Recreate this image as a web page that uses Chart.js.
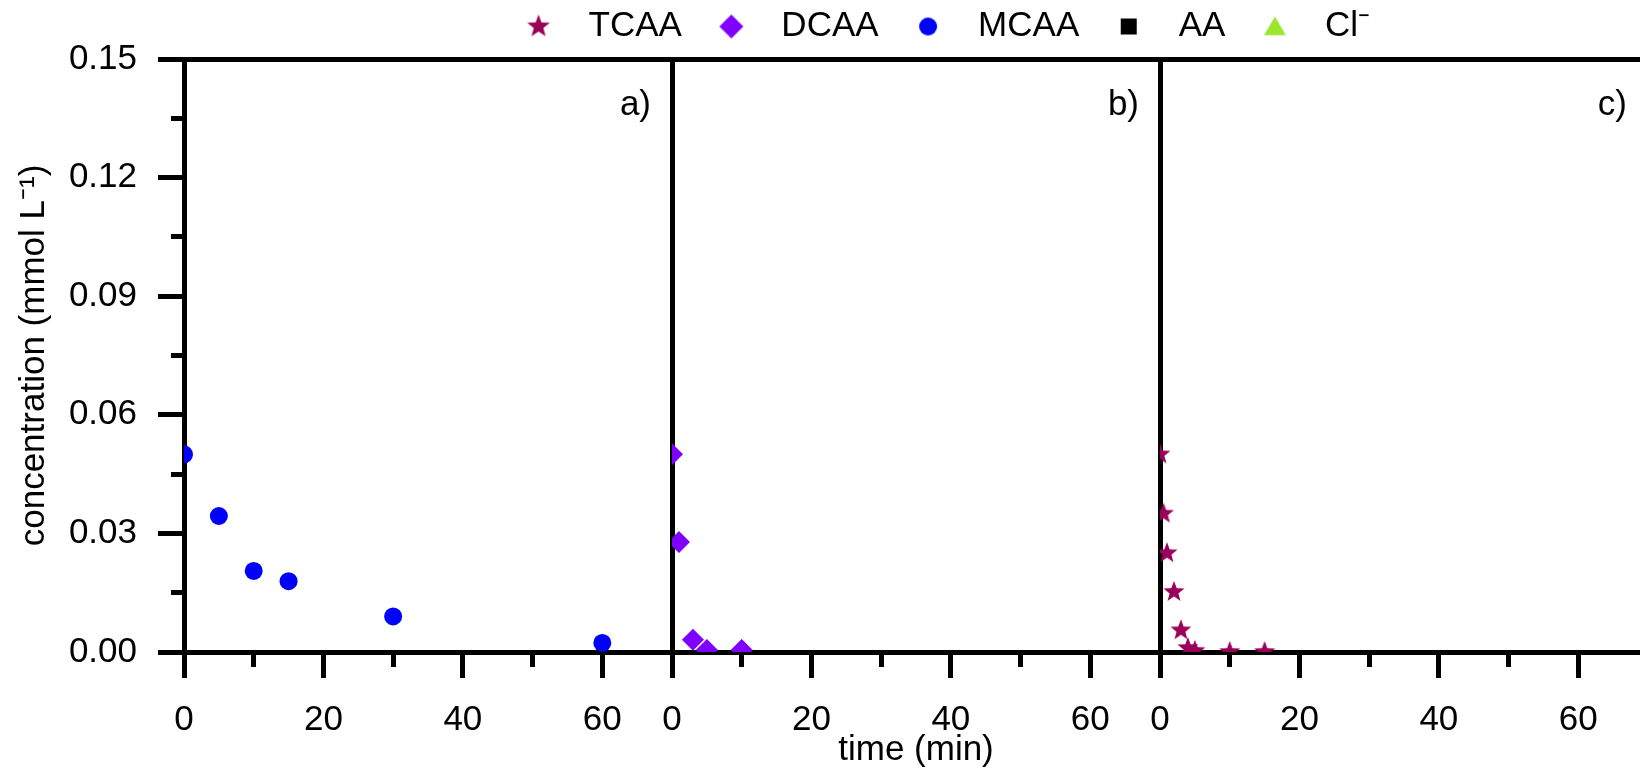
<!DOCTYPE html>
<html>
<head>
<meta charset="utf-8">
<title>Haloacetic acid degradation</title>
<script src="https://cdn.jsdelivr.net/npm/chart.js@4.4.1/dist/chart.umd.min.js"></script>
<style>
  html, body { margin: 0; padding: 0; background: #fff; }
  body { width: 1640px; height: 768px; overflow: hidden; position: relative; }
  canvas { position: absolute; top: 0; }
</style>
</head>
<body>
<canvas id="panelA" width="672" height="768" style="left:0px"></canvas>
<canvas id="panelB" width="588" height="768" style="left:572px"></canvas>
<canvas id="panelC" width="1390" height="768" style="left:258px"></canvas>
<script>
// legend entries
const seriesNames = ['TCAA', 'DCAA', 'MCAA', 'AA', 'Cl⁻'];
const seriesColors = ['#9a0059', '#8000ff', '#0000ff', '#000000', '#9ee530'];
const seriesShapes = ['star', 'diamond', 'circle', 'square', 'triangle'];

// a) MCAA
const mcaaTime = [0, 5, 10, 15, 30, 60];
const mcaaConc = [0.050, 0.0344, 0.0205, 0.0179, 0.0090, 0.0023];
// b) DCAA
const dcaaTime = [0, 1, 3, 5, 10];
const dcaaConc = [0.050, 0.0278, 0.0031, 0.0005, 0.0005];
// c) TCAA
const tcaaTime = [0, 0.5, 1, 2, 3, 4, 5, 10, 15];
const tcaaConc = [0.050, 0.035, 0.025, 0.0152, 0.0055, 0.001, 0.0003, 0, 0];

const xTickValues = [0, 10, 20, 30, 40, 50, 60, 70];
const xTickLabels = ['0', '', '20', '', '40', '', '60', ''];
const yTickValues = [0, 0.015, 0.03, 0.045, 0.06, 0.075, 0.09, 0.105, 0.12, 0.135, 0.15];
const yTickLabels = ['0.00', '', '0.03', '', '0.06', '', '0.09', '', '0.12', '', '0.15'];
const panelLetters = ['a)', 'b)', 'c)'];

Chart.defaults.font.family = "'Liberation Sans', Arial, sans-serif";
Chart.defaults.color = '#000';

function drawShape(g, shape, cx, cy, s) {
    g.beginPath();
    if (shape === 'star') {
        for (let i = 0; i < 10; i++) {
            const a = -Math.PI / 2 + i * Math.PI / 5;
            const r = i % 2 ? s * 0.42 : s;
            g.lineTo(cx + r * Math.cos(a), cy + r * Math.sin(a));
        }
    } else if (shape === 'diamond') {
        g.moveTo(cx, cy - s); g.lineTo(cx + s, cy); g.lineTo(cx, cy + s); g.lineTo(cx - s, cy);
    } else if (shape === 'circle') {
        g.arc(cx, cy, s, 0, Math.PI * 2);
    } else if (shape === 'square') {
        g.rect(cx - s, cy - s, 2 * s, 2 * s);
    } else if (shape === 'triangle') {
        g.moveTo(cx, cy - s * 0.9); g.lineTo(cx + s, cy + s * 0.8); g.lineTo(cx - s, cy + s * 0.8);
    }
    g.closePath();
    g.fill();
}

function makeSymbol(shape, color, size, w, h, cx) {
    const c = document.createElement('canvas');
    c.width = w;
    c.height = h;
    const g = c.getContext('2d');
    g.fillStyle = color;
    drawShape(g, shape, cx, h / 2, size);
    return c;
}

const legendSizes = [12, 12, 9, 8, 11];
// symbol sits left of the image centre so the gap to the text matches
const legendSymbols = seriesShapes.map((s, i) => makeSymbol(s, seriesColors[i], legendSizes[i], 58, 30, 14));
const starPoint = makeSymbol('star', seriesColors[0], 11, 24, 24, 12);

function points(t, c) {
    return t.map((x, i) => ({ x: x, y: c[i] }));
}

function dataset(k, t, c, style, radius) {
    return {
        label: seriesNames[k],
        data: points(t, c),
        pointStyle: style,
        pointRadius: radius,
        pointBorderWidth: 0,
        backgroundColor: seriesColors[k],
        borderColor: seriesColors[k],
        showLine: false,
        clip: 0
    };
}

// the panels butt against each other, so no label padding at the ends
function noEdgePadding(s) {
    s.paddingLeft = 0;
    s.paddingRight = 0;
    s.paddingTop = 0;
    s.paddingBottom = 0;
}

function xAxis(showTitle) {
    return {
        type: 'linear', position: 'bottom', min: 0, max: 70, z: 1,
        afterBuildTicks: s => { s.ticks = xTickValues.map(v => ({ value: v })); },
        afterFit: s => { s.height = 116; noEdgePadding(s); },
        ticks: { autoSkip: false, maxRotation: 0, padding: 21, color: '#000', font: { size: 35 },
                 callback: (v, i) => xTickLabels[i] },
        grid: { drawOnChartArea: false, drawTicks: true, tickLength: 26, tickWidth: 5,
                tickColor: '#000', color: '#000',
                tickBorderDash: c => (c.tick && xTickLabels[c.index] === '') ? [12, 60] : [] },
        border: { display: true, width: 5, color: '#000' },
        title: { display: showTitle, text: 'time (min)', color: '#000',
                 font: { size: 35, lineHeight: 1 }, padding: { top: 0, bottom: 0 } }
    };
}

function topAxis(height) {
    return {
        type: 'linear', position: 'top', min: 0, max: 70, z: 1,
        ticks: { display: false },
        grid: { display: false, drawTicks: false },
        border: { display: true, width: 5, color: '#000' },
        afterFit: s => { s.height = height(s); noEdgePadding(s); }
    };
}

function plainY(width) {
    return {
        type: 'linear', position: 'left', min: 0, max: 0.15, z: 1,
        ticks: { display: false },
        grid: { display: false, drawTicks: false },
        border: { display: true, width: 5, color: '#000' },
        afterFit: s => { s.width = width; noEdgePadding(s); }
    };
}

const panelLetterPlugin = {
    id: 'panelLetter',
    afterDraw(chart, args, opts) {
        const { ctx, chartArea } = chart;
        ctx.save();
        ctx.font = "35px 'Liberation Sans', Arial, sans-serif";
        ctx.fillStyle = '#000';
        ctx.textAlign = 'right';
        ctx.textBaseline = 'middle';
        ctx.fillText(opts.text, chartArea.right - 21, chartArea.top + 46);
        ctx.restore();
    }
};

function baseOptions(letter) {
    return {
        responsive: false,
        maintainAspectRatio: false,
        animation: false,
        layout: { padding: 0, autoPadding: false },
        plugins: {
            legend: { display: false },
            tooltip: { enabled: false },
            panelLetter: { text: letter }
        }
    };
}

// panel a
const optsA = baseOptions(panelLetters[0]);
optsA.scales = {
    x: xAxis(false),
    xTop: topAxis(() => 59),
    y: {
        type: 'linear', position: 'left', min: 0, max: 0.15, z: 1,
        afterBuildTicks: s => { s.ticks = yTickValues.map(v => ({ value: v })); },
        afterFit: s => { s.width = 184; noEdgePadding(s); },
        ticks: { autoSkip: false, padding: 21, color: '#000', font: { size: 35 },
                 callback: (v, i) => yTickLabels[i] },
        grid: { drawOnChartArea: false, drawTicks: true, tickLength: 26, tickWidth: 5,
                tickColor: '#000', color: '#000',
                tickBorderDash: c => (c.tick && yTickLabels[c.index] === '') ? [0, 13, 20, 60] : [] },
        border: { display: true, width: 5, color: '#000' },
        title: { display: true, text: 'concentration (mmol L⁻¹)', color: '#000',
                 font: { size: 35, lineHeight: 1 }, padding: { top: 16.5, bottom: 0 } }
    }
};
new Chart(document.getElementById('panelA'), {
    type: 'scatter',
    data: { datasets: [dataset(2, mcaaTime, mcaaConc, 'circle', 9)] },
    options: optsA,
    plugins: [panelLetterPlugin]
});

// panel b
const optsB = baseOptions(panelLetters[1]);
optsB.scales = { x: xAxis(true), xTop: topAxis(() => 59), y: plainY(100) };
new Chart(document.getElementById('panelB'), {
    type: 'scatter',
    data: { datasets: [dataset(1, dcaaTime, dcaaConc, 'rectRot', 11)] },
    options: optsB,
    plugins: [panelLetterPlugin]
});

// panel c, carries the shared legend
const legendTop = -38;
const legendPad = 47;
const optsC = baseOptions(panelLetters[2]);
optsC.layout = { padding: { top: legendTop, left: 0, right: 0, bottom: 0 }, autoPadding: false };
optsC.plugins.legend = {
    display: true,
    position: 'top',
    labels: {
        usePointStyle: true,
        boxWidth: 35,
        padding: legendPad,
        color: '#000',
        font: { size: 35 },
        generateLabels: () => seriesNames.map((name, i) => ({
            text: name,
            pointStyle: legendSymbols[i],
            fillStyle: seriesColors[i],
            strokeStyle: seriesColors[i],
            lineWidth: 0,
            hidden: false,
            fontColor: '#000'
        }))
    }
};
optsC.scales = {
    x: xAxis(false),
    xTop: topAxis(s => {
        const lh = s.chart.legend && s.chart.legend.height ? s.chart.legend.height : 35 + legendPad + 10;
        return Math.max(59 - legendTop - lh, 0);
    }),
    y: plainY(902)
};
new Chart(document.getElementById('panelC'), {
    type: 'scatter',
    data: { datasets: [dataset(0, tcaaTime, tcaaConc, starPoint, 11)] },
    options: optsC,
    plugins: [panelLetterPlugin]
});
</script>
</body>
</html>
